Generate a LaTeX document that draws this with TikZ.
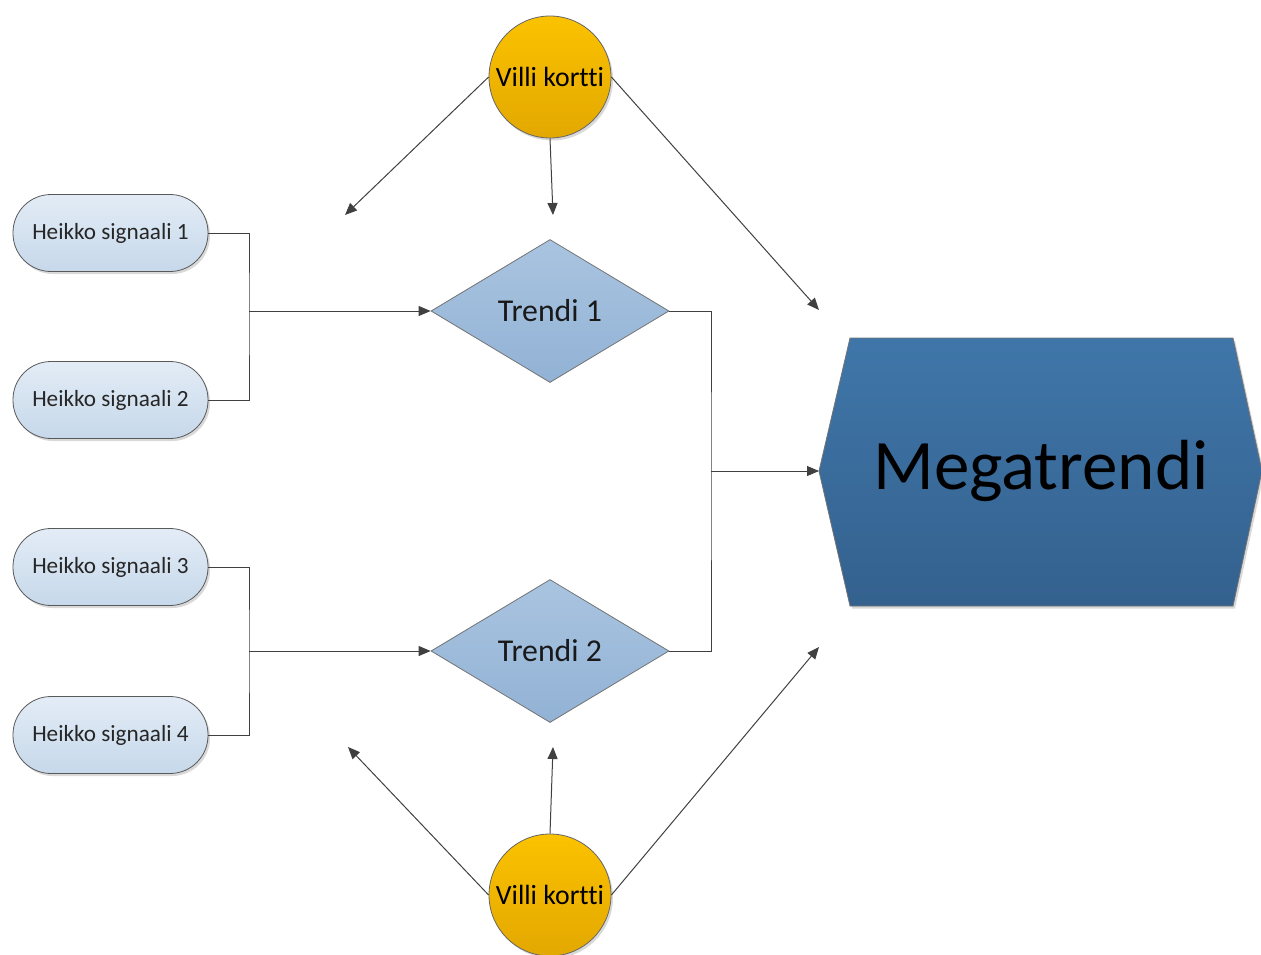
\documentclass[tikz,border=0pt]{standalone}
\usepackage{fontspec}
\setmainfont{Carlito}[Ligatures={NoCommon}]
\usetikzlibrary{shapes.geometric,shadows,arrows.meta}

\definecolor{edgegray}{HTML}{404040}
\definecolor{sigtop}{HTML}{E3ECF6}
\definecolor{sigbot}{HTML}{C6D8EA}
\definecolor{trtop}{HTML}{A9C4E0}
\definecolor{trbot}{HTML}{92B2D5}
\definecolor{wildtop}{HTML}{FBC200}
\definecolor{wildbot}{HTML}{E3A800}
\definecolor{megatop}{HTML}{3F76A9}
\definecolor{megabot}{HTML}{34618E}

\begin{document}
\begin{tikzpicture}[x=1pt,y=-1pt,
  softshadow/.style={drop shadow={shadow xshift=2pt,shadow yshift=-2.5pt,opacity=0.25,fill=black!60}},
  link/.style={draw=edgegray,line width=1pt},
  conn/.style={link,-{Triangle[length=12pt,width=10pt]}},
  signal/.style={draw=black!65,line width=0.8pt,rounded corners=38pt,
    minimum width=195pt,minimum height=77pt,inner sep=0pt,
    top color=sigtop,bottom color=sigbot,text=black!85,
    font=\fontsize{23.2}{27}\selectfont,softshadow},
  trend/.style={diamond,draw=black!55,line width=0.8pt,
    minimum width=238pt,minimum height=143pt,inner sep=0pt,
    top color=trtop,bottom color=trbot,text=black!90,
    font=\fontsize{31.8}{37}\selectfont},
  wild/.style={circle,draw=black!60,line width=0.8pt,minimum size=122pt,inner sep=0pt,
    top color=wildtop,bottom color=wildbot,text=black,
    font=\fontsize{27.8}{32}\selectfont,softshadow},
  mega/.style={draw=black!55,line width=0.8pt,top color=megatop,bottom color=megabot,softshadow}
]
\useasboundingbox (0,0) rectangle (1261,954);

% weak signals
\node[signal] (s1) at (110.5,233) {Heikko signaali 1};
\node[signal] (s2) at (110.5,400) {Heikko signaali 2};
\node[signal] (s3) at (110.5,567) {Heikko signaali 3};
\node[signal] (s4) at (110.5,735) {Heikko signaali 4};

% trends
\node[trend] (t1) at (550,311) {Trendi 1};
\node[trend] (t2) at (550,651) {Trendi 2};

% megatrend
\path[mega] (819,471) coordinate (mw) -- (850,338) -- (1233,338) -- (1262,471)
  -- (1233,606) -- (850,606) -- cycle;
\node[text=black,font=\fontsize{71}{82}\selectfont] (m) at (1041,471) {Megatrendi};

% wild cards
\node[wild] (w1) at (550,77) {Villi kortti};
\node[wild] (w2) at (550,895) {Villi kortti};

% junction points of the bracket connectors
\coordinate (j1) at (249,311);
\coordinate (j2) at (249,651);
\coordinate (j3) at (711,471);

\draw[link] (s1.east) -| (j1) |- (s2.east);
\draw[conn] (j1) -- (t1.west);
\draw[link] (s3.east) -| (j2) |- (s4.east);
\draw[conn] (j2) -- (t2.west);
\draw[link] (t1.east) -| (j3) |- (t2.east);
\draw[conn] (j3) -- (mw);

% free ends of the wild card arrows
\coordinate (a1) at (345,215);
\coordinate (a2) at (553,215);
\coordinate (a3) at (819,310);
\coordinate (b1) at (348,747);
\coordinate (b2) at (553,747);
\coordinate (b3) at (819,647);

\draw[conn] (w1.west) -- (a1);
\draw[conn] (w1.south) -- (a2);
\draw[conn] (w1.east) -- (a3);
\draw[conn] (w2.west) -- (b1);
\draw[conn] (w2.north) -- (b2);
\draw[conn] (w2.east) -- (b3);
\end{tikzpicture}
\end{document}
